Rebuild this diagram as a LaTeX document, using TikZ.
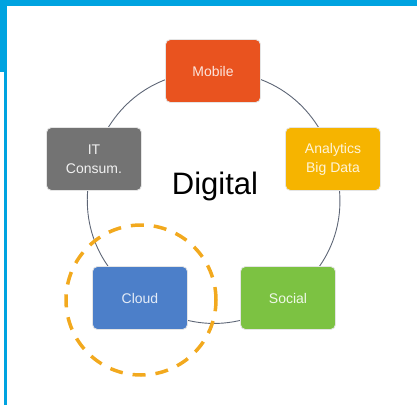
\documentclass[tikz,border=0pt]{standalone}
\usepackage{fontspec}
\setmainfont{Liberation Sans}
\usetikzlibrary{positioning}
\usetikzlibrary{backgrounds}
\definecolor{frameblue}{HTML}{00A3E0}
\definecolor{mobilered}{HTML}{E9531F}
\definecolor{dataamber}{HTML}{F6B400}
\definecolor{itgray}{HTML}{737373}
\definecolor{cloudblue}{HTML}{4C7FC9}
\definecolor{socialgreen}{HTML}{7CC242}
\definecolor{ringgray}{HTML}{5E6676}
\definecolor{markorange}{HTML}{F2A91E}
\tikzset{BoxStyle/.style={rectangle,rounded corners=5pt,minimum width=95pt,minimum height=63pt,
  align=center,draw=white!80!gray,line width=0.8pt,font=\fontsize{14}{19}\selectfont,inner sep=2pt}}
\tikzset{EdgeStyle/.style={draw=ringgray,line width=0.9pt,bend left=36}}
\begin{document}
\begin{tikzpicture}[x=1pt,y=1pt]
        \useasboundingbox (0,0) rectangle (417,405);
        \fill[frameblue] (0,399) rectangle (417,405);
        \fill[frameblue] (0,333) rectangle (7,405);
        \fill[frameblue] (4,0) rectangle (7,333);
        \node[BoxStyle,fill=mobilered,text=mobilered!15!white] (M) at (213,334) {Mobile};
        \node[BoxStyle,fill=dataamber,text=dataamber!15!white] (A) at (333,246) {Analytics\\Big Data};
        \node[BoxStyle,fill=socialgreen,text=socialgreen!12!white] (S) at (288,107) {Social};
        \node[BoxStyle,fill=cloudblue,text=cloudblue!15!white] (C) at (140,107) {Cloud};
        \node[BoxStyle,fill=itgray,text=itgray!10!white] (I) at (94,246) {IT\\Consum.};
        \node[font=\fontsize{31}{31}\selectfont] (D) at (215,219) {Digital};
        \begin{pgfonlayer}{background}
        \draw[EdgeStyle] (M.center) to (A.center);
        \draw[EdgeStyle] (A.center) to (S.center);
        \draw[EdgeStyle] (S.center) to (C.center);
        \draw[EdgeStyle] (C.center) to (I.center);
        \draw[EdgeStyle] (I.center) to (M.center);
        \end{pgfonlayer}
        \draw[markorange,line width=3.5pt,dash pattern=on 13pt off 10pt] (C) ++(1,-2) circle (75);
\end{tikzpicture}
\end{document}
